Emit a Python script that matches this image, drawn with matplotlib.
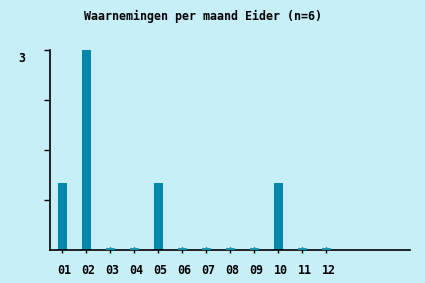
import matplotlib
matplotlib.use("Agg")
import matplotlib.pyplot as plt
from matplotlib.transforms import ScaledTranslation
import numpy as np

months = ["01", "02", "03", "04", "05", "06", "07", "08", "09", "10", "11", "12"]
counts = [1, 3, 0, 0, 1, 0, 0, 0, 0, 1, 0, 0]
title = "Waarnemingen per maand Eider (n=6)"

bg = "#c6eff8"
bar_color = "#0088aa"
stub_color = "#1899bb"

W, H = 425, 283
fig = plt.figure(figsize=(W / 100, H / 100), dpi=100, facecolor=bg)
ax = fig.add_axes([50 / W, (H - 250) / H, 360 / W, 200 / H], facecolor=bg)

x = np.arange(len(months))
vals = np.array(counts, dtype=float)
ymax = vals.max()
stub = ymax * 0.01
ax.bar(x[vals > 0], vals[vals > 0], width=0.375, color=bar_color, zorder=2)
ax.bar(x[vals == 0], np.full((vals == 0).sum(), stub), width=0.375,
       bottom=0, color=stub_color, zorder=3)

ax.set_xlim(-0.52, 14.48)
ax.set_ylim(0, ymax)

for s in ["top", "right"]:
    ax.spines[s].set_visible(False)
for s in ["left", "bottom"]:
    ax.spines[s].set_color("black")
    ax.spines[s].set_linewidth(1.2)

font = dict(family="DejaVu Sans Mono", weight="bold", size=8.4)
ax.set_xticks(x)
ax.set_xticklabels(months, fontdict=font)
ax.tick_params(axis="x", direction="inout", length=4, width=1, pad=8, colors="black")
for lab in ax.get_xticklabels():
    lab.set_transform(lab.get_transform() + ScaledTranslation(2 / 100, 0, fig.dpi_scale_trans))

yt = [ymax * f for f in (0.25, 0.5, 0.75, 1.0)]
ax.set_yticks(yt)
ax.set_yticklabels(["", "", "", "3"], fontdict=font)
ax.tick_params(axis="y", direction="out", length=4, width=1, pad=14, colors="black")
for lab in ax.get_yticklabels():
    lab.set_transform(lab.get_transform() + ScaledTranslation(0, -7 / 100, fig.dpi_scale_trans))

fig.text(203 / W, 1 - 16 / H, title, ha="center", va="center", **font)

fig.savefig("out.png", dpi=100, facecolor=bg)
